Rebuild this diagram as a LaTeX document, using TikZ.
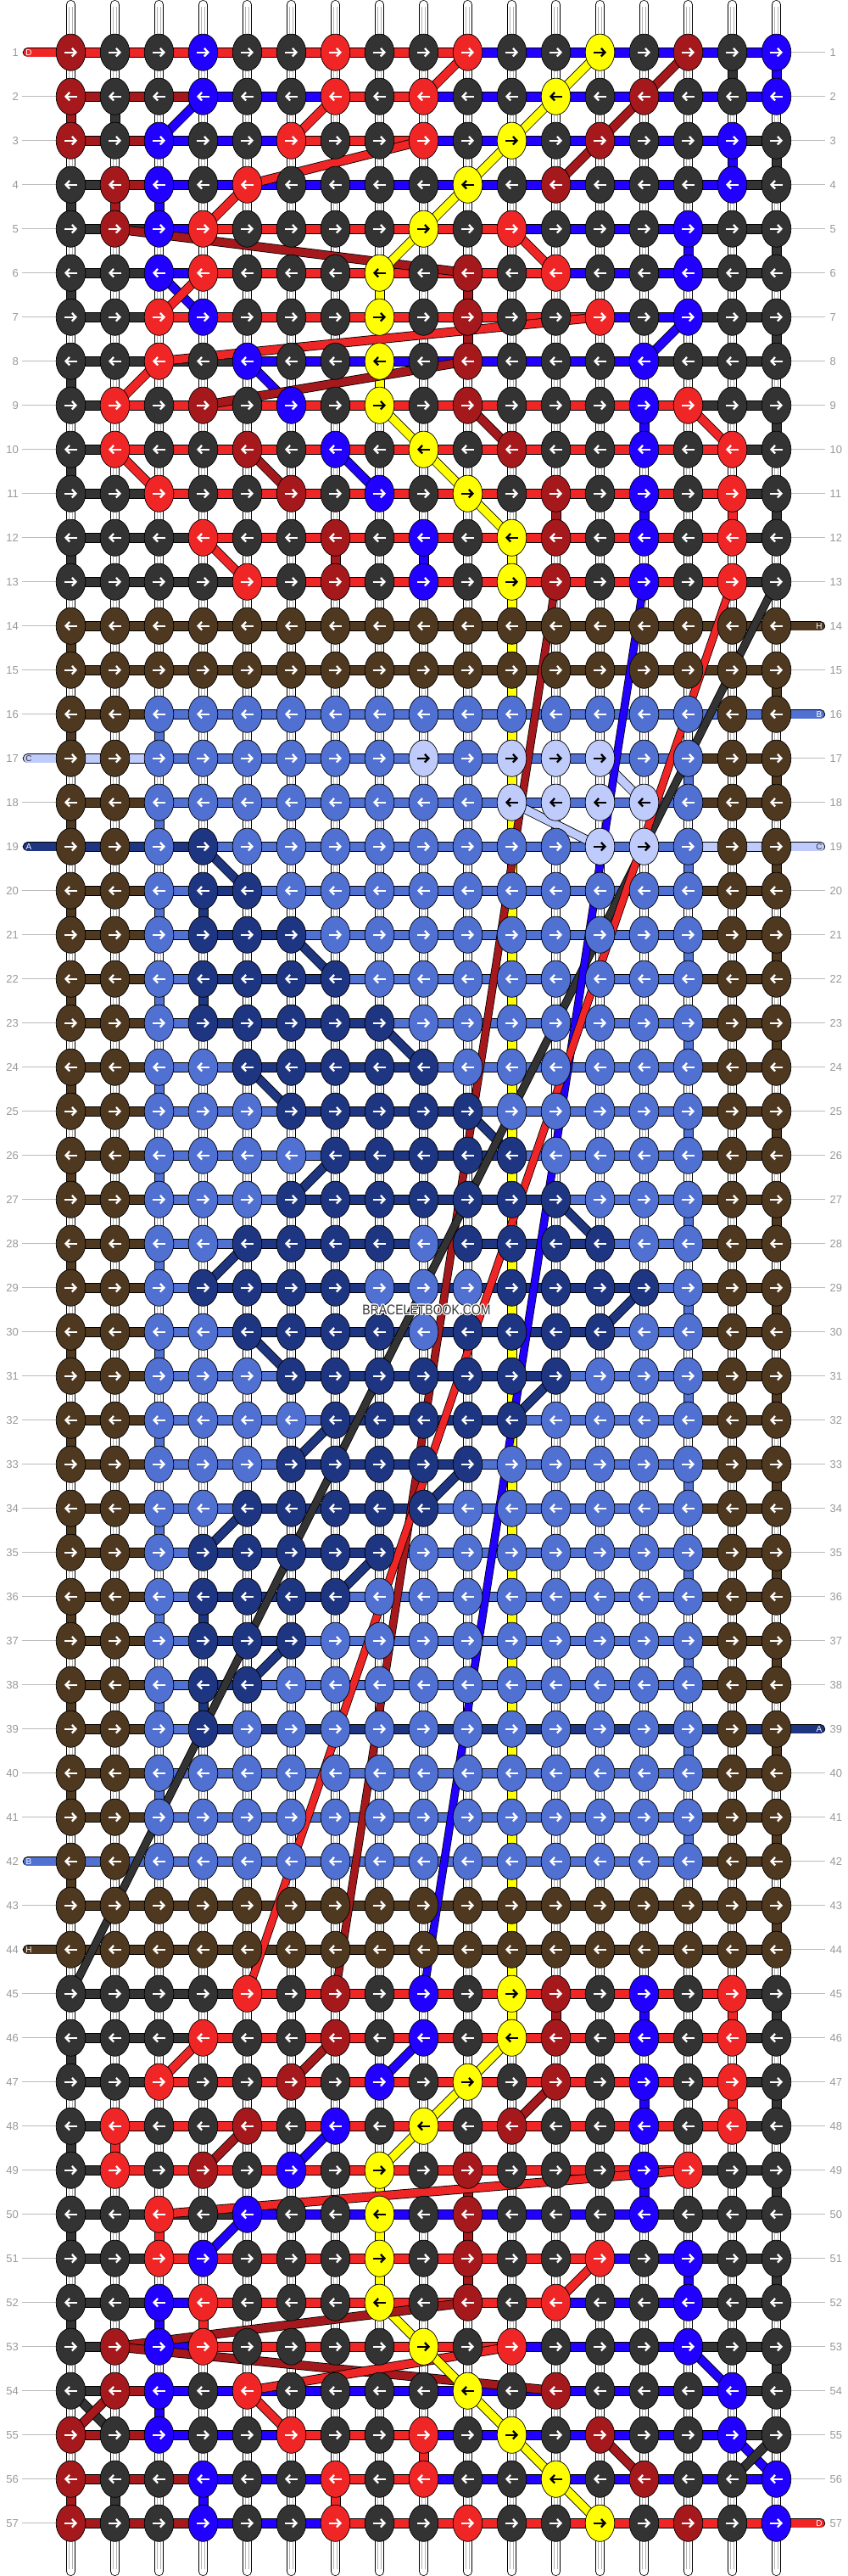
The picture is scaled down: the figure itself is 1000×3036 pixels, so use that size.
\documentclass[tikz,border=0pt]{standalone}
\usepackage{fontspec}
\setmainfont{Liberation Sans}
\usepackage{graphicx}
\usetikzlibrary{arrows.meta}
\definecolor{cK}{HTML}{333333}
\definecolor{cR}{HTML}{F02626}
\definecolor{cD}{HTML}{A5191C}
\definecolor{cB}{HTML}{2200FF}
\definecolor{cY}{HTML}{FFFF00}
\definecolor{cN}{HTML}{4F3820}
\definecolor{cM}{HTML}{5070D2}
\definecolor{cL}{HTML}{BFCBFA}
\definecolor{cV}{HTML}{1E3581}
\colorlet{aK}{white}\colorlet{aR}{white}\colorlet{aD}{white}\colorlet{aB}{white}
\colorlet{aN}{white}\colorlet{aM}{white}\colorlet{aV}{white}
\colorlet{aY}{black}\colorlet{aL}{black}
\definecolor{labgray}{HTML}{999999}
\definecolor{lingray}{HTML}{BBBBBB}
\makeatletter
\newcommand\KnotAt[3]{%
  \pgfmathsetmacro\knx{83.5+52*#2}%
  \pgfmathsetmacro\kny{61.7+52*(#1-1)}%
  \path[draw=black,line width=0.7pt,fill=c#3] (\knx,\kny) ellipse [x radius=17.3pt,y radius=21.6pt];
  \ifodd#1\relax
    \draw[a#3,line width=2.3pt,-{Straight Barb[length=4.5pt,width=9.5pt]}] (\knx-7.5,\kny) -- (\knx+7.5,\kny);
  \else
    \draw[a#3,line width=2.3pt,-{Straight Barb[length=4.5pt,width=9.5pt]}] (\knx+7.5,\kny) -- (\knx-7.5,\kny);
  \fi}
\newcommand\KnotRow[2]{%
  \def\kk{0}%
  \@tfor\cc:=#2\do{%
    \edef\tmp{\noexpand\KnotAt{#1}{\kk}{\cc}}\tmp
    \pgfmathtruncatemacro\kk{\kk+1}}}
\newcommand\SegAt[3]{%
  \pgfmathsetmacro\sxa{83.5+52*#2}%
  \pgfmathsetmacro\sya{61.7+52*(#1-1)}%
  \path[draw=black,line width=0.6pt,fill=c#3] (\sxa,\sya-5.6) rectangle (\sxa+52,\sya+5.6);}
\newcommand\SegRow[2]{%
  \def\kk{0}%
  \@tfor\cc:=#2\do{%
    \edef\tmp{\noexpand\SegAt{#1}{\kk}{\cc}}\tmp
    \pgfmathtruncatemacro\kk{\kk+1}}}
\makeatother
\newcommand\VSeg[3]{%
  \pgfmathsetmacro\vx{83.5+52*#2}%
  \pgfmathsetmacro\vy{61.7+52*(#1-1)}%
  \path[draw=black,line width=0.6pt,fill=c#3] (\vx-5.3,\vy) rectangle (\vx+5.3,\vy+52);}
\newcommand\Diag[5]{%
  \draw[black,line width=11pt] ({83.5+52*#2},{61.7+52*(#1-1)}) -- ({83.5+52*#4},{61.7+52*(#3-1)});
  \draw[c#5,line width=9.3pt] ({83.5+52*#2},{61.7+52*(#1-1)}) -- ({83.5+52*#4},{61.7+52*(#3-1)});}
\newcommand\LongDiag[5]{%
  \draw[black,line width=9.6pt] ({83.5+52*#2},{61.7+52*(#1-1)}) -- ({83.5+52*#4},{61.7+52*(#3-1)});
  \draw[c#5,line width=8pt] ({83.5+52*#2},{61.7+52*(#1-1)}) -- ({83.5+52*#4},{61.7+52*(#3-1)});}
\newcommand\TailL[4]{%
  \pgfmathsetmacro\ty{61.7+52*(#1-1)}%
  \draw[black,line width=11.2pt,line cap=round] (32.5,\ty)--(83.5,\ty);
  \draw[c#2,line width=9.6pt,line cap=round] (32.5,\ty)--(83.5,\ty);
  \node[text=#4,font=\fontsize{10}{10}\selectfont,inner sep=0pt] at (34,\ty) {#3};}
\newcommand\TailR[4]{%
  \pgfmathsetmacro\ty{61.7+52*(#1-1)}%
  \draw[black,line width=11.2pt,line cap=round] (915.5,\ty)--(967.5,\ty);
  \draw[c#2,line width=9.6pt,line cap=round] (915.5,\ty)--(967.5,\ty);
  \node[text=#4,font=\fontsize{10}{10}\selectfont,inner sep=0pt] at (966,\ty) {#3};}
\begin{document}
\begin{tikzpicture}[x=1pt,y=-1pt]
\useasboundingbox (0,0) rectangle (1000,3036);
\fill[white] (0,0) rectangle (1000,3036);
% base strings
\foreach \k in {0,...,16}{
  \pgfmathsetmacro\bx{83.5+52*\k}
  \draw[black,line width=11pt,line cap=round] (\bx,5.5)--(\bx,3030.5);
  \draw[white,line width=9.4pt,line cap=round] (\bx,5.5)--(\bx,3030.5);
  \draw[black!30,line width=0.6pt] (\bx-2.2,8)--(\bx-2.2,3028);
  \draw[black!30,line width=0.6pt] (\bx+2.2,8)--(\bx+2.2,3028);
}
% row labels
\foreach \r in {1,...,57}{
  \pgfmathsetmacro\yy{61.7+52*(\r-1)}
  \draw[lingray,line width=1.2pt] (26,\yy)--(66,\yy);
  \draw[lingray,line width=1.2pt] (933,\yy)--(973,\yy);
  \node[anchor=east,text=labgray,font=\fontsize{13}{13}\selectfont,inner sep=0pt] at (22,\yy) {\r};
  \node[anchor=west,text=labgray,font=\fontsize{13}{13}\selectfont,inner sep=0pt] at (978.5,\yy) {\r};
}
% tails
\TailL{1}{R}{D}{white}
\TailR{14}{N}{H}{white}
\TailR{16}{M}{B}{white}
\TailL{17}{L}{C}{cK}
\TailL{19}{V}{A}{white}
\TailR{19}{L}{C}{cK}
\TailR{39}{V}{A}{white}
\TailL{42}{M}{B}{white}
\TailL{44}{N}{H}{white}
\TailR{57}{R}{D}{white}
% horizontal segments
\SegRow{1}{RRRRRRRRRBBBBBBB}
\SegRow{2}{DDDBBBRRBBBBBBBB}
\SegRow{3}{DDBBBRRRBBBBBBBK}
\SegRow{4}{KDBBBBBBBBBBBBBK}
\SegRow{5}{KKBRRRRRRRBBBBKK}
\SegRow{6}{KKBRRRRRRRRBBBKK}
\SegRow{7}{KKRRRRRRRRRRBBKK}
\SegRow{8}{KKKKBBBBBBBBBKKK}
\SegRow{9}{KRRRRRRRRRRRRRKK}
\SegRow{10}{KRRRRRRRRRRRRRRK}
\SegRow{11}{KKRRRRRRRRRRRRRK}
\SegRow{12}{KKKRRRRRRRRRRRRK}
\SegRow{13}{KKKKRRRRRRRRRRRK}
\SegRow{14}{NNNNNNNNNNNNNNNN}
\SegRow{15}{NNNNNNNNNNNNNNNN}
\SegRow{16}{NNMMMMMMMMMMMMMM}
\SegRow{17}{LLMMMMMMMMMMMMNN}
\SegRow{18}{NNMMMMMMMMMMMMNN}
\SegRow{19}{VVVMMMMMMMMMMMLL}
\SegRow{20}{NNMVMMMMMMMMMMNN}
\SegRow{21}{NNMVVMMMMMMMMMNN}
\SegRow{22}{NNMVVVMMMMMMMMNN}
\SegRow{23}{NNMVVVVMMMMMMMNN}
\SegRow{24}{NNMMVVVVMMMMMMNN}
\SegRow{25}{NNMMMVVVVMMMMMNN}
\SegRow{26}{NNMMMMVVVVMMMMNN}
\SegRow{27}{NNMMMVVVVVVMMMNN}
\SegRow{28}{NNMMVVVVVVVVMMNN}
\SegRow{29}{NNMVVVVVVVVVVMNN}
\SegRow{30}{NNMMVVVVVVVVMMNN}
\SegRow{31}{NNMMMVVVVVVMMMNN}
\SegRow{32}{NNMMMMVVVVMMMMNN}
\SegRow{33}{NNMMMVVVVMMMMMNN}
\SegRow{34}{NNMMVVVVMMMMMMNN}
\SegRow{35}{NNMVVVVMMMMMMMNN}
\SegRow{36}{NNMVVVMMMMMMMMNN}
\SegRow{37}{NNMVVMMMMMMMMMNN}
\SegRow{38}{NNMVMMMMMMMMMMNN}
\SegRow{39}{NNMVVVVVVVVVVVVV}
\SegRow{40}{NNMMMMMMMMMMMMNN}
\SegRow{41}{NNMMMMMMMMMMMMNN}
\SegRow{42}{MMMMMMMMMMMMMMNN}
\SegRow{43}{NNNNNNNNNNNNNNNN}
\SegRow{44}{NNNNNNNNNNNNNNNN}
\SegRow{45}{KKKKRRRRRRRRRRRK}
\SegRow{46}{KKKRRRRRRRRRRRRK}
\SegRow{47}{KKRRRRRRRRRRRRRK}
\SegRow{48}{KRRRRRRRRRRRRRRK}
\SegRow{49}{KRRRRRRRRRRRRRKK}
\SegRow{50}{KKKKBBBBBBBBBKKK}
\SegRow{51}{KKRRRRRRRRRRBBKK}
\SegRow{52}{KKBRRRRRRRRBBBKK}
\SegRow{53}{KKBRRRRRRRBBBBKK}
\SegRow{54}{KDBBBBBBBBBBBBBK}
\SegRow{55}{DDBBBRRRBBBBBBBK}
\SegRow{56}{DDDBBBRRBBBBBBBB}
\SegRow{57}{DDDBBBRRRRRRRRRR}
% vertical segments
\foreach \pa/\pb/\pe in {1/15/K,1/16/B,2/0/D,2/1/K,3/15/B,3/16/K,4/0/K,4/1/D,4/2/B,5/14/B,5/16/K,6/0/K,6/7/Y,6/9/D,7/9/D,7/16/K,8/0/K,8/7/Y,9/13/B,9/16/K,10/0/K,11/11/D,11/13/B,11/15/R,11/16/K,12/0/K,12/6/D,12/8/B,
 45/11/D,45/13/B,45/15/R,45/16/K,46/0/K,47/13/B,47/15/R,47/16/K,48/0/K,48/1/R,49/7/Y,49/9/D,49/13/B,49/16/K,50/0/K,50/2/R,50/7/Y,50/9/D,51/7/Y,51/9/D,51/14/B,51/16/K,52/0/K,52/2/B,52/3/R,53/16/K,54/2/B,55/8/R,56/0/D,56/1/K,56/3/B,56/6/R,
 20/3/V,22/3/V,36/3/V,38/3/V}{\edef\tmp{\noexpand\VSeg{\pa}{\pb}{\pe}}\tmp}
\foreach \r in {12,...,45}{\VSeg{\r}{10}{Y}}
\foreach \r in {14,16,...,42}{\VSeg{\r}{0}{N}}
\foreach \r in {15,17,...,43}{\VSeg{\r}{16}{N}}
\foreach \r in {16,18,...,40}{\VSeg{\r}{2}{M}}
\foreach \r in {17,19,...,41}{\VSeg{\r}{14}{M}}
% short diagonals
\foreach \pa/\pb/\pc/\pd/\pe in {1/9/2/8/R,1/12/2/11/Y,1/14/2/13/D,2/3/3/2/B,2/6/3/5/R,2/11/3/10/Y,2/13/3/12/D,3/8/4/4/R,3/10/4/9/Y,3/12/4/11/D,4/4/5/3/R,4/9/5/8/Y,5/1/6/9/D,5/8/6/7/Y,5/10/6/11/R,6/2/7/3/B,6/3/7/2/R,7/12/8/2/R,7/14/8/13/B,8/2/9/1/R,8/4/9/5/B,8/9/9/3/D,9/7/10/8/Y,9/9/10/10/D,9/14/10/15/R,10/1/11/2/R,10/4/11/5/D,10/6/11/7/B,10/8/11/9/Y,11/9/12/10/Y,12/3/13/4/R,
 46/3/47/2/R,46/6/47/5/D,46/8/47/7/B,46/10/47/9/Y,47/9/48/8/Y,47/11/48/10/D,48/4/49/3/D,48/6/49/5/B,48/8/49/7/Y,49/14/50/2/R,50/4/51/3/B,51/12/52/11/R,52/7/53/8/Y,52/9/53/1/D,53/1/54/11/D,53/10/54/4/R,53/8/54/9/Y,53/14/54/15/B,54/0/55/1/K,54/1/55/0/D,54/4/55/5/R,54/9/55/10/Y,55/10/56/11/Y,55/12/56/13/D,55/15/56/16/B,55/16/56/15/K,56/11/57/12/Y,
 17/12/18/13/L,18/10/19/12/L,
 19/3/20/4/V,21/5/22/6/V,23/7/24/8/V,24/4/25/5/V,25/9/26/10/V,26/6/27/5/V,27/11/28/12/V,28/4/29/3/V,29/13/30/12/V,30/4/31/5/V,31/11/32/10/V,32/6/33/5/V,33/9/34/8/V,34/4/35/3/V,35/7/36/6/V,37/5/38/4/V}{\edef\tmp{\noexpand\Diag{\pa}{\pb}{\pc}{\pd}{\pe}}\tmp}
% long diagonals
\LongDiag{13}{11}{45}{6}{D}
\LongDiag{13}{16}{45}{0}{K}
\LongDiag{13}{13}{45}{8}{B}
\LongDiag{13}{15}{45}{4}{R}
% knots
\KnotRow{1}{DKKBKKRKKRKKYKDKB}
\KnotRow{2}{DKKBKKRKRKKYKDKKB}
\KnotRow{3}{DKBKKRKKRKYKDKKBK}
\KnotRow{4}{KDBKRKKKKYKDKKKBK}
\KnotRow{5}{KDBRKKKKYKRKKKBKK}
\KnotRow{6}{KKBRKKKYKDKRKKBKK}
\KnotRow{7}{KKRBKKKYKDKKRKBKK}
\KnotRow{8}{KKRKBKKYKDKKKBKKK}
\KnotRow{9}{KRKDKBKYKDKKKBRKK}
\KnotRow{10}{KRKKDKBKYKDKKBKRK}
\KnotRow{11}{KKRKKDKBKYKDKBKRK}
\KnotRow{12}{KKKRKKDKBKYDKBKRK}
\KnotRow{13}{KKKKRKDKBKYDKBKRK}
\KnotRow{14}{NNNNNNNNNNNNNNNNN}
\KnotRow{15}{NNNNNNNNNNNNNNNNN}
\KnotRow{16}{NNMMMMMMMMMMMMMNN}
\KnotRow{17}{NNMMMMMMLMLLLMMNN}
\KnotRow{18}{NNMMMMMMMMLLLLMNN}
\KnotRow{19}{NNMVMMMMMMMMLLMNN}
\KnotRow{20}{NNMVVMMMMMMMMMMNN}
\KnotRow{21}{NNMVVVMMMMMMMMMNN}
\KnotRow{22}{NNMVVVVMMMMMMMMNN}
\KnotRow{23}{NNMVVVVVMMMMMMMNN}
\KnotRow{24}{NNMMVVVVVMMMMMMNN}
\KnotRow{25}{NNMMMVVVVVMMMMMNN}
\KnotRow{26}{NNMMMMVVVVVMMMMNN}
\KnotRow{27}{NNMMMVVVVVVVMMMNN}
\KnotRow{28}{NNMMVVVVMVVVVMMNN}
\KnotRow{29}{NNMVVVVMMMVVVVMNN}
\KnotRow{30}{NNMMVVVVMVVVVMMNN}
\KnotRow{31}{NNMMMVVVVVVVMMMNN}
\KnotRow{32}{NNMMMMVVVVVMMMMNN}
\KnotRow{33}{NNMMMVVVVVMMMMMNN}
\KnotRow{34}{NNMMVVVVVMMMMMMNN}
\KnotRow{35}{NNMVVVVVMMMMMMMNN}
\KnotRow{36}{NNMVVVVMMMMMMMMNN}
\KnotRow{37}{NNMVVVMMMMMMMMMNN}
\KnotRow{38}{NNMVVMMMMMMMMMMNN}
\KnotRow{39}{NNMVMMMMMMMMMMMNN}
\KnotRow{40}{NNMMMMMMMMMMMMMNN}
\KnotRow{41}{NNMMMMMMMMMMMMMNN}
\KnotRow{42}{NNMMMMMMMMMMMMMNN}
\KnotRow{43}{NNNNNNNNNNNNNNNNN}
\KnotRow{44}{NNNNNNNNNNNNNNNNN}
\KnotRow{45}{KKKKRKDKBKYDKBKRK}
\KnotRow{46}{KKKRKKDKBKYDKBKRK}
\KnotRow{47}{KKRKKDKBKYKDKBKRK}
\KnotRow{48}{KRKKDKBKYKDKKBKRK}
\KnotRow{49}{KRKDKBKYKDKKKBRKK}
\KnotRow{50}{KKRKBKKYKDKKKBKKK}
\KnotRow{51}{KKRBKKKYKDKKRKBKK}
\KnotRow{52}{KKBRKKKYKDKRKKBKK}
\KnotRow{53}{KDBRKKKKYKRKKKBKK}
\KnotRow{54}{KDBKRKKKKYKDKKKBK}
\KnotRow{55}{DKBKKRKKRKYKDKKBK}
\KnotRow{56}{DKKBKKRKRKKYKDKKB}
\KnotRow{57}{DKKBKKRKKRKKYKDKB}
% watermark
\foreach \dx/\dy in {-1.2/0,1.2/0,0/-1.2,0/1.2,-0.9/-0.9,0.9/0.9,-0.9/0.9,0.9/-0.9}{
  \node[text=white,font=\fontsize{16.5}{16.5}\selectfont,inner sep=0pt] at (503+\dx,1543.7+\dy) {\scalebox{0.85}[1]{BRACELETBOOK.COM}};}
\node[text=cK,font=\fontsize{16.5}{16.5}\selectfont,inner sep=0pt] (wm) at (503,1543.7) {\scalebox{0.85}[1]{BRACELETBOOK.COM}};
\end{tikzpicture}
\end{document}
